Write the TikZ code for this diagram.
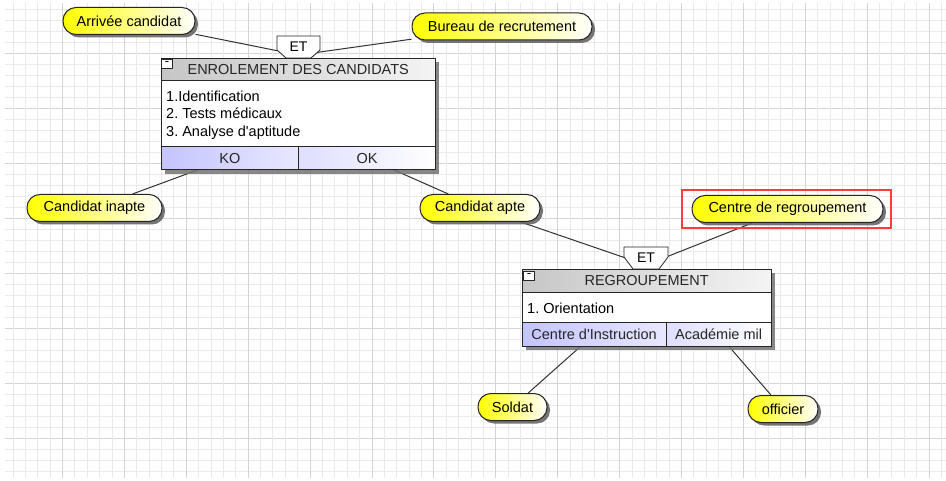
\documentclass[tikz,border=0pt]{standalone}
\usepackage{fontspec}
\setmainfont{Liberation Sans}[Ligatures=TeXOff]
\usetikzlibrary{shadows}
\pgfdeclarelayer{gridlayer}
\pgfdeclarelayer{bg}
\pgfsetlayers{gridlayer,bg,main}
\definecolor{gridminor}{RGB}{234,234,234}
\definecolor{gridmajor}{RGB}{212,212,212}
\definecolor{hdrL}{RGB}{198,198,198}
\definecolor{hdrR}{RGB}{244,244,244}
\definecolor{koL}{RGB}{196,196,255}
\definecolor{koR}{RGB}{232,232,255}
\definecolor{okL}{RGB}{222,222,255}
\definecolor{pillY}{RGB}{255,255,0}
\definecolor{redsel}{RGB}{255,60,60}
\definecolor{connc}{RGB}{50,50,50}
\newcommand\dfont{\fontsize{14.5}{17.7}\selectfont}
\frenchspacing
\begin{document}
\begin{tikzpicture}[x=1pt,y=-1pt,
  pill/.style={rectangle, draw=black!85, line width=1pt, rounded corners=13pt,
    left color=pillY, middle color=pillY!60!white, right color=white,
    minimum height=27pt, inner sep=0pt, font=\dfont, text=black,
    drop shadow={shadow xshift=3pt, shadow yshift=-3pt, fill=black!60, opacity=0.9}},
  hdr/.style={rectangle, draw=black!85, line width=0.8pt, left color=hdrL, right color=hdrR,
    inner sep=0pt, font=\dfont, text=black!85, anchor=north west},
  body/.style={rectangle, draw=black!85, line width=0.8pt, fill=white, inner sep=0pt, anchor=north west},
  kocell/.style={rectangle, draw=black!85, line width=0.8pt, left color=koL, right color=koR,
    inner sep=0pt, font=\dfont, text=black!85, anchor=north west},
  okcell/.style={rectangle, draw=black!85, line width=0.8pt, left color=okL, right color=white,
    inner sep=0pt, font=\dfont, text=black!85, anchor=north west},
  bodytext/.style={inner sep=0pt, align=left, font=\dfont, text=black, anchor=west},
  minusbox/.style={rectangle, draw=black!85, line width=0.7pt, fill=white, inner sep=0pt,
    minimum width=11pt, minimum height=9.5pt, font=\fontsize{13}{13}\selectfont},
  etshape/.style={draw=black!85, line width=0.8pt, fill=white},
  ettext/.style={inner sep=0pt, font=\fontsize{14}{16}\selectfont, text=black},
  boxshadow/.style={fill=black!55, opacity=0.85},
  conn/.style={draw=connc, line width=1pt},
  selbox/.style={draw=redsel, line width=1.2pt},
  gminor/.style={draw=gridminor, line width=1pt},
  gmajor/.style={draw=gridmajor, line width=1pt}]
\useasboundingbox (0,0) rectangle (946,481);
\begin{pgfonlayer}{gridlayer}
  \fill[white] (0,0) rectangle (946,481);
  \foreach \k in {0,...,42} {
    \pgfmathsetmacro\yy{9.3+11*\k}
    \pgfmathtruncatemacro\mm{mod(\k,5)}
    \ifnum\mm=4 \draw[gmajor] (5,\yy) -- (946,\yy); \else \draw[gminor] (5,\yy) -- (946,\yy); \fi
  }
  \foreach \k in {0,...,75} {
    \pgfmathsetmacro\xx{13+12.38*\k}
    \pgfmathtruncatemacro\mm{mod(\k,5)}
    \ifnum\mm=4 \draw[gmajor] (\xx,3) -- (\xx,478); \else \draw[gminor] (\xx,3) -- (\xx,478); \fi
  }
\end{pgfonlayer}

% pills
\node[pill, minimum width=132pt] (arr) at (129,21) {Arrivée candidat};
\node[pill, minimum width=180pt] (bur) at (502,26.5) {Bureau de recrutement};
\node[pill, minimum width=135pt] (inapte) at (94.5,208) {Candidat inapte};
\node[pill, minimum width=120pt] (apte) at (480,208) {Candidat apte};
\node[pill, minimum width=191pt] (centre) at (787.5,209) {Centre de regroupement};
\node[pill, minimum width=69pt] (soldat) at (512.5,407) {Soldat};
\node[pill, minimum width=70pt] (officier) at (783,409) {officier};
\draw[selbox] (682,190) -- (891,190) -- (891,228) -- (682,228) -- cycle;

% ET 1
\draw[etshape] (277,36) -- (320,36) -- (320,50) -- (311,58) -- (286,58) -- (277,50) -- cycle;
\node[ettext] (et1) at (298.5,46.5) {ET};
\coordinate (et1tip) at (298.5,55);

% ENROLEMENT box
\fill[boxshadow] (164.7,62.3) rectangle (439,173.8);
\node[hdr, minimum width=274.3pt, minimum height=21.7pt] (enrH) at (160.7,58.3) {ENROLEMENT DES CANDIDATS};
\node[body, minimum width=274.3pt, minimum height=66pt] (enrB) at (160.7,80) {};
\node[bodytext] (enrT) at (166,115) {1.Identification\\2. Tests médicaux\\3. Analyse d'aptitude};
\node[kocell, minimum width=137.6pt, minimum height=23.3pt] (ko) at (160.7,146) {KO};
\node[okcell, minimum width=136.7pt, minimum height=23.3pt] (ok) at (298.3,146) {OK};
\node[minusbox] (m1) at (167,64) {-};

% ET 2
\draw[etshape] (624,247) -- (668,247) -- (668,257) -- (659,269) -- (633,269) -- (624,257) -- cycle;
\node[ettext] (et2) at (646,258) {ET};
\coordinate (et2tip) at (646,265);

% REGROUPEMENT box
\fill[boxshadow] (525.7,273.3) rectangle (774.7,349.7);
\node[hdr, minimum width=249pt, minimum height=22.4pt] (rgH) at (521.7,269.3) {REGROUPEMENT};
\node[body, minimum width=249pt, minimum height=30.6pt] (rgB) at (521.7,291.7) {};
\node[bodytext] (rgT) at (527,308) {1. Orientation};
\node[kocell, minimum width=144pt, minimum height=23.4pt] (ci) at (521.7,322.3) {Centre d'Instruction};
\node[okcell, minimum width=105pt, minimum height=23.4pt] (am) at (665.7,322.3) {Académie mil};
\node[minusbox] (m2) at (529,276) {-};

% connectors
\begin{pgfonlayer}{bg}
  \draw[conn] (arr) -- (et1tip);
  \draw[conn] (bur) -- (et1tip);
  \draw[conn] (ko) -- (inapte);
  \draw[conn] (ok) -- (apte);
  \draw[conn] (apte) -- (et2tip);
  \draw[conn] (centre) -- (et2tip);
  \draw[conn] (ci) -- (soldat);
  \draw[conn] (am) -- (officier);
\end{pgfonlayer}
\end{tikzpicture}
\end{document}
